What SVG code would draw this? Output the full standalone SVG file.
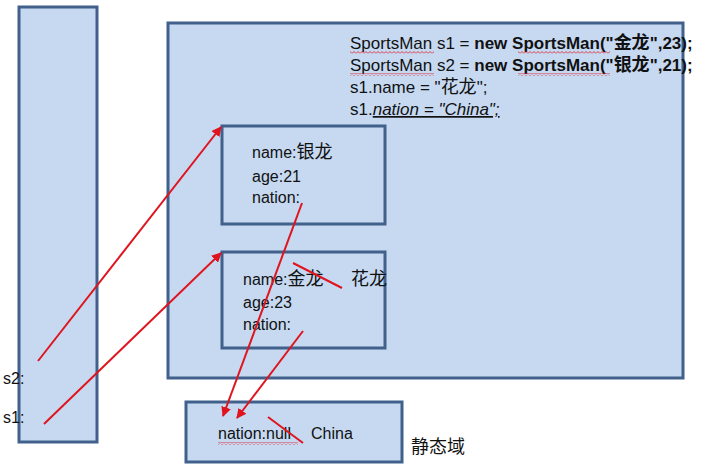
<svg xmlns="http://www.w3.org/2000/svg" width="704" height="465" viewBox="0 0 704 465">
<defs>
<style>
.box{fill:#c6d9f1;stroke:#41608c;stroke-width:3}
.t{font-family:"Liberation Sans","Noto Sans CJK SC",sans-serif;font-size:16px;fill:#111}
.c{font-size:17px}
.cjk{font-size:18px}
.b{font-weight:bold}
.red{stroke:#e0141e;stroke-width:2;fill:none}
</style>
<marker id="ah" viewBox="0 0 10 10" refX="9" refY="5" markerWidth="5" markerHeight="5" orient="auto" markerUnits="strokeWidth">
<path d="M0,0 L10,5 L0,10 z" fill="#e0141e"/>
</marker>
<pattern id="wave" width="4" height="3" patternUnits="userSpaceOnUse">
<path d="M0,2.5 L2,0.5 L4,2.5" fill="none" stroke="#e0141e" stroke-width="0.8"/>
</pattern>
</defs>
<g id="stack"><rect class="box" x="19" y="7" width="78" height="435"/></g>
<g id="heap"><rect class="box" x="168" y="23" width="515" height="355"/></g>
<g id="code">
<text class="t c" x="350" y="49">SportsMan s1 = <tspan class="b">new SportsMan("<tspan class="cjk">金龙</tspan>",23);</tspan></text>
<text class="t c" x="350" y="71">SportsMan s2 = <tspan class="b">new SportsMan("<tspan class="cjk">银龙</tspan>",21);</tspan></text>
<text class="t c" x="350" y="93">s1.name = "<tspan class="cjk">花龙</tspan>";</text>
<text class="t c" x="350" y="115">s1.<tspan font-style="italic" text-decoration="underline">nation = "China";</tspan></text>
<rect x="350" y="51" width="84" height="3" fill="url(#wave)"/>
<rect x="350" y="73" width="84" height="3" fill="url(#wave)"/>
<rect x="518" y="51" width="92" height="3" fill="url(#wave)"/>
<rect x="518" y="73" width="92" height="3" fill="url(#wave)"/>
</g>
<g id="obj2"><rect class="box" x="222" y="126" width="163" height="98"/>
<text class="t" x="252" y="158">name:<tspan class="cjk">银龙</tspan></text>
<text class="t" x="252" y="182">age:21</text>
<text class="t" x="252" y="203">nation:</text>
</g>
<g id="obj1"><rect class="box" x="222" y="252" width="163" height="96"/>
<text class="t" x="243" y="285">name:<tspan class="cjk">金龙</tspan></text>
<text class="t cjk" x="351" y="285">花龙</text>
<text class="t" x="243" y="308">age:23</text>
<text class="t" x="243" y="330">nation:</text>
</g>
<g id="static"><rect class="box" x="186" y="402" width="216" height="60"/>
<text class="t" x="218" y="439">nation:null</text>
<text class="t" x="311" y="439">China</text>
<rect x="218" y="442" width="80" height="3" fill="url(#wave)"/>
</g>
<g id="labels">
<text class="t cjk" x="411" y="453">静态域</text>
<text class="t" x="3" y="384">s2:</text>
<text class="t" x="3" y="423">s1:</text>
</g>
<g id="connectors">
<line class="red" x1="38" y1="361" x2="221" y2="127" marker-end="url(#ah)"/>
<line class="red" x1="44" y1="424" x2="221" y2="253" marker-end="url(#ah)"/>
<line class="red" x1="302" y1="203" x2="223" y2="416" marker-end="url(#ah)"/>
<line class="red" x1="303" y1="331" x2="237" y2="418" marker-end="url(#ah)"/>
<line class="red" x1="293" y1="263" x2="342" y2="288"/>
<line class="red" x1="268" y1="417" x2="303" y2="443"/>
</g>
</svg>
